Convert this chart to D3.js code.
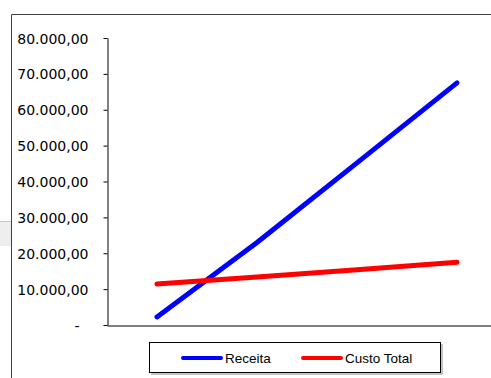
<!DOCTYPE html>
<html>
<head>
<meta charset="utf-8">
<script src="https://cdn.jsdelivr.net/npm/d3@7"></script>
<style>
  html, body { margin: 0; padding: 0; background: #fff; }
  svg { display: block; }
</style>
</head>
<body>
<svg id="chart" width="491" height="378"></svg>
<script>
// Break-even chart: revenue vs total cost over four production levels
const categories = ["Q1", "Q2", "Q3", "Q4"];
const receita = [2250, 23000, 45200, 67500];
const custoTotal = [11400, 13400, 15400, 17500];
const yTicks = [0, 10000, 20000, 30000, 40000, 50000, 60000, 70000, 80000];
const seriesNames = ["Receita", "Custo Total"];
const seriesColors = ["#0000ff", "#ff0000"];

const svg = d3.select("#chart");
const W = 491, H = 378;

// outer chart frame (extends past the window on the right and bottom)
svg.append("rect")
  .attr("x", 0).attr("y", 221).attr("width", 11).attr("height", 25)
  .attr("fill", "#eeeeee");
svg.append("line")
  .attr("x1", 0).attr("x2", 11).attr("y1", 221.5).attr("y2", 221.5)
  .attr("stroke", "#c8c8c8");
svg.append("path")
  .attr("d", `M11.5,${H + 2}V14.5H${W + 2}`)
  .attr("fill", "none").attr("stroke", "#404040").attr("stroke-width", 1);

const plot = { left: 107, right: 507, top: 38, bottom: 325 };

const x = d3.scalePoint()
  .domain(categories)
  .range([plot.left, plot.right])
  .padding(0.5);

const y = d3.scaleLinear()
  .domain([0, 80000])
  .range([plot.bottom, plot.top]);

const fmt = v => v === 0 ? "-" :
  v.toLocaleString("pt-BR", { minimumFractionDigits: 2, maximumFractionDigits: 2 });

// value axis
const yAxis = svg.append("g")
  .attr("transform", `translate(${plot.left + 0.5},0)`)
  .call(d3.axisLeft(y).tickValues(yTicks).tickSize(4).tickSizeOuter(0).tickPadding(15).tickFormat(fmt));
yAxis.select(".domain").attr("stroke", "#000");
yAxis.selectAll(".tick line").attr("stroke", "#000");
yAxis.selectAll(".tick text")
  .attr("font-family", "'DejaVu Sans', sans-serif")
  .attr("font-size", "14px")
  .attr("fill", "#000")
  .attr("dy", "0.36em");
yAxis.selectAll(".tick").filter(d => d === 0).select("text").attr("x", -28);

// category axis (no labels)
const xAxis = svg.append("g")
  .attr("transform", `translate(0,${plot.bottom + 0.5})`)
  .call(d3.axisBottom(x).tickValues([]).tickSizeOuter(0));
xAxis.select(".domain").attr("stroke", "#000");

// series lines
const line = d3.line()
  .x((d, i) => x(categories[i]))
  .y(d => y(d));

[receita, custoTotal].forEach((s, i) => {
  svg.append("path")
    .datum(s)
    .attr("d", line)
    .attr("fill", "none")
    .attr("stroke", seriesColors[i])
    .attr("stroke-width", 5)
    .attr("stroke-linecap", "round")
    .attr("stroke-linejoin", "round");
});

// legend
const lg = svg.append("g");
lg.append("path")
  .attr("d", "M442,344V374H151")
  .attr("fill", "none").attr("stroke", "#888").attr("stroke-width", 1);
lg.append("rect")
  .attr("x", 149.5).attr("y", 342.5).attr("width", 291).attr("height", 30)
  .attr("fill", "#fff").attr("stroke", "#000");

const legendItems = [
  { x1: 183, x2: 221, tx: 225 },
  { x1: 303, x2: 341, tx: 345 }
];
legendItems.forEach((it, i) => {
  lg.append("line")
    .attr("x1", it.x1).attr("x2", it.x2)
    .attr("y1", 358).attr("y2", 358)
    .attr("stroke", seriesColors[i])
    .attr("stroke-width", 4)
    .attr("stroke-linecap", "round");
  lg.append("text")
    .attr("x", it.tx).attr("y", 358)
    .attr("dy", "0.36em")
    .attr("font-family", "'Liberation Sans', Arial, sans-serif")
    .attr("font-size", "13.5px")
    .attr("fill", "#000")
    .text(seriesNames[i]);
});
</script>
</body>
</html>
